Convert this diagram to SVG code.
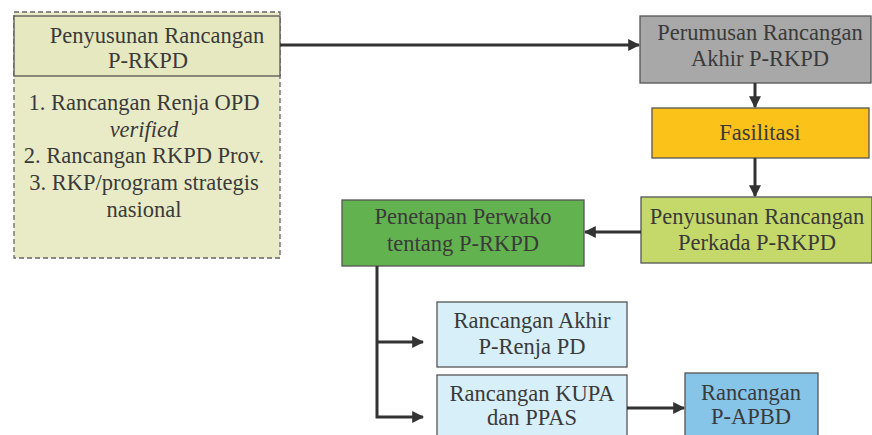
<svg xmlns="http://www.w3.org/2000/svg" width="872" height="435" viewBox="0 0 872 435">
<defs>
<style>
.lbl{font-family:"Liberation Serif","Times New Roman",serif;font-size:22.5px;fill:#3a3a3a;text-anchor:middle}
.box{stroke:#555;stroke-width:1.3}
.con{stroke:#333;stroke-width:3;fill:none}
</style>
<marker id="ah" viewBox="0 0 10 10" refX="9" refY="5" markerWidth="4" markerHeight="4" orient="auto" markerUnits="strokeWidth">
<path d="M0,0 L10,5 L0,10 z" fill="#333"/>
</marker>
</defs>
<rect width="872" height="435" fill="#fff"/>
<g class="lbl">
<g id="penyusunan-p-rkpd">
<rect x="14" y="12" width="266" height="246" fill="#e9ebc6" stroke="#666" stroke-width="1.3" stroke-dasharray="5,3"/>
<rect class="box" x="14" y="16" width="266" height="60" fill="#e6e8c0"/>
<text x="157" y="43">Penyusunan Rancangan</text>
<text x="148" y="68">P-RKPD</text>
<text x="144" y="110">1. Rancangan Renja OPD</text>
<text x="144" y="137" font-style="italic">verified</text>
<text x="144" y="163">2. Rancangan RKPD Prov.</text>
<text x="144" y="190">3. RKP/program strategis</text>
<text x="144" y="217">nasional</text>
</g>
<g id="perumusan">
<rect class="box" x="640" y="16" width="231" height="67" fill="#a8a8a8"/>
<text x="760" y="40">Perumusan Rancangan</text>
<text x="760" y="66">Akhir P-RKPD</text>
</g>
<g id="fasilitasi">
<rect class="box" x="652" y="108" width="217" height="50" fill="#fbc21a"/>
<text x="760" y="140">Fasilitasi</text>
</g>
<g id="perkada">
<rect class="box" x="641" y="197" width="231" height="66" fill="#c4d96a"/>
<text x="757" y="224">Penyusunan Rancangan</text>
<text x="757" y="250">Perkada P-RKPD</text>
</g>
<g id="penetapan">
<rect class="box" x="342" y="200" width="242" height="66" fill="#62b34f"/>
<text x="463" y="224">Penetapan Perwako</text>
<text x="463" y="251">tentang P-RKPD</text>
</g>
<g id="renja">
<rect class="box" x="437" y="302" width="190" height="65" fill="#d7eff9"/>
<text x="532" y="328">Rancangan Akhir</text>
<text x="532" y="354">P-Renja PD</text>
</g>
<g id="kupa">
<rect class="box" x="437" y="375" width="190" height="70" fill="#d7eff9"/>
<text x="532" y="401">Rancangan KUPA</text>
<text x="532" y="425">dan PPAS</text>
</g>
<g id="apbd">
<rect class="box" x="685" y="373" width="133" height="72" fill="#86c4e8"/>
<text x="751" y="400">Rancangan</text>
<text x="751" y="424">P-APBD</text>
</g>
</g>
<g id="connectors">
<line class="con" x1="280" y1="45" x2="639" y2="45" marker-end="url(#ah)"/>
<line class="con" x1="755" y1="83" x2="755" y2="107" marker-end="url(#ah)"/>
<line class="con" x1="755" y1="158" x2="755" y2="196" marker-end="url(#ah)"/>
<line class="con" x1="641" y1="232" x2="585" y2="232" marker-end="url(#ah)"/>
<polyline class="con" points="377,266 377,417 423,417" marker-end="url(#ah)"/>
<line class="con" x1="377" y1="342" x2="423" y2="342" marker-end="url(#ah)"/>
<line class="con" x1="627" y1="408" x2="684" y2="408" marker-end="url(#ah)"/>
</g>
</svg>
